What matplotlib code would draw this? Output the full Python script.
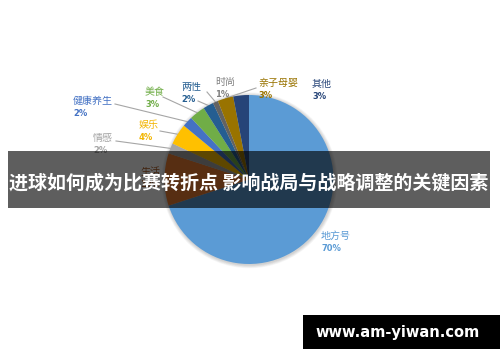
import numpy as np
import matplotlib
matplotlib.use("Agg")
import matplotlib.pyplot as plt
from matplotlib.patches import Circle, Rectangle

plt.rcParams['font.family'] = ['Noto Sans CJK SC', 'DejaVu Sans']

W, H = 500, 362

# slices, clockwise from 12 o'clock
labels = ["地方号", "生活", "情感", "娱乐", "健康养生", "美食", "两性", "时尚", "亲子母婴", "其他"]
values = [70, 10, 2, 4, 2, 3, 2, 1, 3, 3]
colors = ["#5B9BD5", "#ED7D31", "#A5A5A5", "#FFC000", "#4472C4", "#70AD47",
          "#255E91", "#636363", "#997300", "#264478"]
text_colors = ["#5B9BD5", "#B0602A", "#A5A5A5", "#F2B500", "#4472C4", "#70AD47",
               "#255E91", "#7F7F7F", "#997300", "#264478"]

title = "进球如何成为比赛转折点 影响战局与战略调整的关键因素"
site = "www.am-yiwan.com"

# label positions in picture pixels (left x, centre y of the name line)
label_pos = {
    "地方号": (321, 236), "生活": (140, 172), "情感": (93, 138), "娱乐": (139, 125),
    "健康养生": (73, 101), "美食": (145, 92), "两性": (181, 87), "时尚": (215, 82),
    "亲子母婴": (258, 83), "其他": (312, 84),
}
# where the leader lines start
leader_start = {
    "情感": (116, 141), "娱乐": (160, 131), "健康养生": (115, 104), "美食": (163, 97),
    "两性": (198, 101), "时尚": (207, 92), "亲子母婴": (256, 88),
}

cx, cy, r = 249, 179.5, 84.5


def fy(py):
    return H - py


fig = plt.figure(figsize=(W / 100, H / 100), dpi=100)
ax = fig.add_axes([0, 0, 1, 1])

# soft shadow around the pie
for i in range(6):
    ax.add_patch(Circle((cx + 0.5, fy(cy) - 0.8), r + 0.5 + i * 0.6, color="#000000",
                        alpha=0.03, lw=0, zorder=1))

wedges, _ = ax.pie(values, colors=colors, startangle=90, counterclock=False,
                   center=(cx, fy(cy)), radius=r, wedgeprops=dict(linewidth=0, zorder=2),
                   frame=True)
ax.set_xlim(0, W)
ax.set_ylim(0, H)
ax.set_aspect("equal")
ax.axis("off")

total = sum(values)
for lab, val, w, tc in zip(labels, values, wedges, text_colors):
    x, y = label_pos[lab]
    ax.text(x, fy(y), lab, color=tc, fontsize=7.2, ha="left", va="center", zorder=3)
    ax.text(x, fy(y + 12.5), "%d%%" % round(val / total * 100), color=tc, fontsize=6,
            fontweight="bold", ha="left", va="center", zorder=3, family="DejaVu Sans")
    if lab in leader_start:
        mid = np.deg2rad((w.theta1 + w.theta2) / 2)
        ex = cx + r * np.cos(mid)
        ey = fy(cy) + r * np.sin(mid)
        sx, sy = leader_start[lab]
        ax.plot([sx, ex], [fy(sy), ey], color="#A6A6A6", lw=0.8, zorder=1.5)

# title banner
ax.add_patch(Rectangle((8, fy(208)), 482, 57, color="#000000", alpha=0.63, lw=0, zorder=5))
ax.text(249, fy(183), title, color="white", fontsize=13.7, fontweight="bold",
        ha="center", va="center", zorder=6)

# site box
ax.add_patch(Rectangle((303, fy(349)), 197, 34, color="#000000", lw=0, zorder=5))
ax.text(398, fy(332), site, color="white", fontsize=10.5, fontweight="bold",
        ha="center", va="center", zorder=6, family="DejaVu Sans")

fig.savefig("out.png", dpi=100)
